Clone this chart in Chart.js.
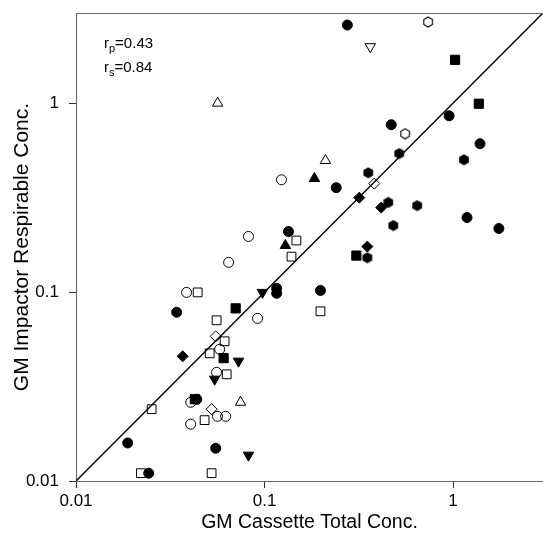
<!DOCTYPE html>
<html><head><meta charset="utf-8">
<script src="https://cdn.jsdelivr.net/npm/chart.js@4.4.0/dist/chart.umd.min.js"></script>
<style>html,body{margin:0;padding:0;background:#fff}#wrap{width:543px;height:535px}</style>
</head><body><div id="wrap"><canvas id="c" width="543" height="535"></canvas></div>
<script>
// ---- data ----
const xTicks=[0.01,0.1,1];
const yTicks=[0.01,0.1,1];
const axisMin=0.01, axisMax=3;
const rpText='0.43', rsText='0.84';
const xTitle='GM Cassette Total Conc.';
const yTitle='GM Impactor Respirable Conc.';

const filledCircleX=[0.275,0.953,1.39,0.470,0.240,1.186,1.75,0.134,0.116,0.116,0.198,0.0342,0.0437,0.0188,0.0551,0.0243];
const filledCircleY=[2.59,0.857,0.610,0.769,0.357,0.248,0.217,0.209,0.1046,0.0985,0.102,0.0782,0.0271,0.0159,0.0149,0.0110];
const openCircleX=[0.123,0.0822,0.0645,0.0386,0.0918,0.0578,0.0557,0.0406,0.0563,0.0622,0.0406];
const openCircleY=[0.393,0.197,0.1436,0.0996,0.0726,0.0498,0.0376,0.0261,0.022,0.022,0.020];
const filledSquareX=[1.025,1.37,0.307,0.0703,0.0607,0.0427];
const filledSquareY=[1.695,0.993,0.156,0.082,0.0447,0.0271];
const openSquareX=[0.1476,0.139,0.198,0.0442,0.0557,0.0614,0.0512,0.063,0.0252,0.0481,0.0221,0.0524];
const openSquareY=[0.1875,0.154,0.0791,0.0996,0.0709,0.0549,0.0474,0.0367,0.024,0.021,0.011,0.011];
const filledTriangleX=[0.184,0.129];
const filledTriangleY=[0.399,0.1765];
const openTriangleX=[0.0564,0.2105,0.0746];
const openTriangleY=[1.0,0.497,0.0261];
const filledDownTriangleX=[0.0975,0.0728,0.0544,0.0822];
const filledDownTriangleY=[0.0996,0.0431,0.0346,0.0137];
const openDownTriangleX=[0.364];
const openDownTriangleY=[1.99];
const filledDiamondX=[0.318,0.416,0.351,0.0368];
const filledDiamondY=[0.316,0.280,0.174,0.0457];
const openDiamondX=[0.382,0.0551,0.0524];
const openDiamondY=[0.375,0.0583,0.024];
const filledHexagonX=[0.518,0.355,1.143,0.453,0.645,0.482,0.351];
const filledHexagonY=[0.541,0.428,0.502,0.298,0.287,0.225,0.152];
const openHexagonX=[0.738,0.557];
const openHexagonY=[2.69,0.689];
const identityX=[0.01,3];
const identityY=[0.01,3];

// ---- helpers ----
const FONT='Arial, "Liberation Sans", sans-serif';
Chart.defaults.font.family=FONT;
Chart.defaults.color='#000';
function pts(xs,ys){return xs.map((x,i)=>({x:x,y:ys[i]}));}
function hexCanvas(filled){
  const s=12;const c=document.createElement('canvas');c.width=s;c.height=s;
  const g=c.getContext('2d');const r=filled?5.6:5.0;
  g.beginPath();
  for(let i=0;i<6;i++){const a=-Math.PI/2+i*Math.PI/3;const px=s/2+r*Math.cos(a),py=s/2+r*Math.sin(a);if(i)g.lineTo(px,py);else g.moveTo(px,py);}
  g.closePath();
  if(filled){g.fillStyle='#000';g.fill();}
  else{g.strokeStyle='#000';g.lineWidth=1.1;g.stroke();}
  return c;
}
function series(xs,ys,style,filled,radius,rot){
  return {data:pts(xs,ys),pointStyle:style,pointRadius:radius,pointHoverRadius:radius,
    pointRotation:rot||0,
    backgroundColor:filled?'#000':'rgba(0,0,0,0)',borderColor:'#000',borderWidth:1,showLine:false};
}
const datasets=[
  {data:pts(identityX,identityY),showLine:true,borderColor:'#000',borderWidth:1.4,pointRadius:0,pointHoverRadius:0,fill:false},
  series(openCircleX,openCircleY,'circle',false,5),
  series(openSquareX,openSquareY,'rect',false,6.2),
  series(openTriangleX,openTriangleY,'triangle',false,6),
  series(openDownTriangleX,openDownTriangleY,'triangle',false,6,180),
  series(openDiamondX,openDiamondY,'rectRot',false,5.5),
  series(openHexagonX,openHexagonY,hexCanvas(false),false,5),
  series(filledCircleX,filledCircleY,'circle',true,5),
  series(filledSquareX,filledSquareY,'rect',true,6.5),
  series(filledTriangleX,filledTriangleY,'triangle',true,6),
  series(filledDownTriangleX,filledDownTriangleY,'triangle',true,6,180),
  series(filledDiamondX,filledDiamondY,'rectRot',true,5.5),
  series(filledHexagonX,filledHexagonY,hexCanvas(true),true,5)
];

function drawSub(ctx,base,sub,rest,x,y){
  ctx.font='15px '+FONT;ctx.fillText(base,x,y);let w=ctx.measureText(base).width;
  ctx.font='11px '+FONT;ctx.fillText(sub,x+w,y+4);w+=ctx.measureText(sub).width;
  ctx.font='15px '+FONT;ctx.fillText(rest,x+w,y);
}
const extras={id:'extras',
  afterDraw(chart){
    const {ctx,chartArea:a}=chart;ctx.save();
    ctx.strokeStyle='#666';ctx.lineWidth=1;ctx.beginPath();ctx.moveTo(a.left,a.top+0.5);ctx.lineTo(a.right,a.top+0.5);ctx.stroke();
    ctx.fillStyle='#000';ctx.textAlign='left';ctx.textBaseline='alphabetic';
    drawSub(ctx,'r','p','='+rpText,a.left+28,48);
    drawSub(ctx,'r','s','='+rsText,a.left+28,72);
    ctx.restore();
  }};

function axis(pos,ticksArr,title,fit,titleSize){
  return {type:'logarithmic',position:pos,min:axisMin,max:axisMax,
    afterBuildTicks:(s)=>{s.ticks=ticksArr.map(v=>({value:v}));},
    afterFit:(s)=>{fit(s);s.paddingTop=0;s.paddingBottom=0;s.paddingLeft=0;s.paddingRight=0;},
    ticks:{callback:(v)=>String(v),font:{size:17},padding:pos==='left'?10:3,color:'#000',autoSkip:false,maxRotation:0,minRotation:0},
    grid:{drawOnChartArea:false,drawTicks:true,tickLength:7,color:'#333',lineWidth:1},
    border:{display:true,color:'#666',width:1},
    title:{display:true,text:title,font:{size:titleSize},color:'#000',padding:pos==='left'?{top:10,bottom:0}:{top:0,bottom:1}}
  };
}
new Chart(document.getElementById('c'),{
  type:'scatter',
  data:{datasets:datasets},
  options:{responsive:false,animation:false,
    layout:{autoPadding:false,padding:{top:13,left:0,right:0,bottom:0}},
    plugins:{legend:{display:false},tooltip:{enabled:false}},
    scales:{
      x:axis('bottom',xTicks,xTitle,(s)=>{s.height=54;},19.5),
      y:axis('left',yTicks,yTitle,(s)=>{s.width=76;},21)
    }
  },
  plugins:[extras]
});
</script></body></html>
